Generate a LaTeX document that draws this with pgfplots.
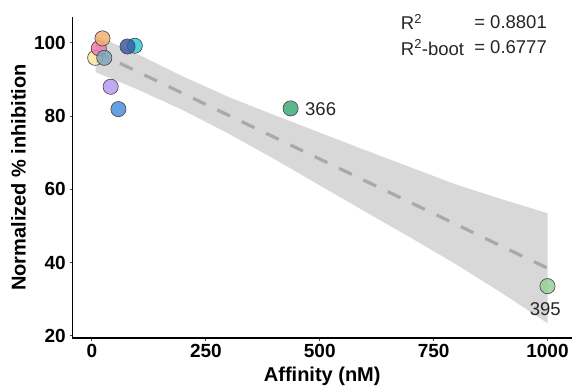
\documentclass[border=0pt]{standalone}
\usepackage{pgfplots}
\pgfplotsset{compat=1.18}
\usepackage{fontspec}
\setmainfont{Liberation Sans}
\definecolor{bandgray}{HTML}{D8D8D8}
\definecolor{linegray}{HTML}{A9A9A9}
\definecolor{cOrange}{HTML}{F0B070}
\definecolor{cPink}{HTML}{EE7AB0}
\definecolor{cYellow}{HTML}{F8E6A0}
\definecolor{cSlate}{HTML}{80A6BC}
\definecolor{cNavy}{HTML}{3B5BA0}
\definecolor{cCyan}{HTML}{30C8D8}
\definecolor{cPurple}{HTML}{B99AF2}
\definecolor{cBlue}{HTML}{4A90DB}
\definecolor{cGreen}{HTML}{40AA78}
\definecolor{cLight}{HTML}{98D098}
\pgfplotsset{pt/.style={only marks, mark=*, mark size=7.6pt,
  mark options={fill=#1, fill opacity=0.85, draw=black!75, line width=0.6pt}}}
\begin{document}
\begin{tikzpicture}
\begin{axis}[
  scale only axis, width=499.5pt, height=321pt,
  xmin=-42.8, xmax=1053.8, ymin=19.45, ymax=107.04,
  axis x line*=bottom, axis y line*=left,
  axis line style={line width=1.9pt, black, -},
  xtick={0,250,500,750,1000}, ytick={20,40,60,80,100},
  tick align=outside, major tick length=2.5pt,
  tick style={black!70, line width=1pt},
  /pgf/number format/assume math mode=true,
  /pgf/number format/1000 sep={},
  ticklabel style={font=\fontsize{19}{19}\selectfont\bfseries},
  yticklabel style={inner xsep=4pt},
  xlabel={Affinity (nM)}, ylabel={Normalized \% inhibition},
  label style={font=\fontsize{20}{20}\selectfont\bfseries},
  xlabel style={at={(axis description cs:0.5,-0.12)}, anchor=center, inner sep=0pt},
  ylabel style={at={(axis description cs:-0.1081,0.5)}, anchor=center, inner sep=0pt},
  clip=false,
]
% confidence band
\addplot[fill=bandgray, draw=none] coordinates {
 (8,102.0) (100,96.9) (200,90.8) (300,85.2) (400,80.3) (500,75.5) (600,70.7) (700,66.0) (800,61.3) (900,57.3) (1000,53.5)
 (1000,23.5) (900,31.7) (800,39.5) (700,46.8) (600,53.9) (500,61.1) (400,68.3) (300,75.2) (200,81.6) (100,87.3) (8,92.0)} -- cycle;
% regression line
\addplot[linegray, line width=3.2pt, dash pattern=on 14pt off 13pt] coordinates {(8,97.6) (1000,38.5)};
% points
\addplot[pt=cYellow] coordinates {(7,95.9)};
\addplot[pt=cPink] coordinates {(15,98.5)};
\addplot[pt=cOrange] coordinates {(23,101.2)};
\addplot[pt=cSlate] coordinates {(27,95.9)};
\addplot[pt=cCyan] coordinates {(94,99.2)};
\addplot[pt=cNavy] coordinates {(78,99.0)};
\addplot[pt=cPurple] coordinates {(41,88.0)};
\addplot[pt=cBlue] coordinates {(58,81.9)};
\addplot[pt=cGreen] coordinates {(436,82.1)};
\addplot[pt=cLight] coordinates {(1000,33.6)};
% labels
\node[anchor=west, inner sep=0pt, font=\fontsize{18.5}{18.5}\selectfont, text=black!85] at (axis cs:467.6,81.9) {366};
\node[inner sep=0pt, font=\fontsize{18.5}{18.5}\selectfont, text=black!85] at (axis cs:995,27.4) {395};
\node[anchor=west, inner sep=0pt, font=\fontsize{18.5}{18.5}\selectfont, text=black!85] at (axis cs:677.7,105.7) {R\textsuperscript{2}};
\node[anchor=west, inner sep=0pt, font=\fontsize{18.5}{18.5}\selectfont, text=black!85] at (axis cs:677.7,98.7) {R\textsuperscript{2}-boot};
\node[anchor=east, inner sep=0pt, font=\fontsize{18.5}{18.5}\selectfont, text=black!85] at (axis cs:999,105.7) {= 0.8801};
\node[anchor=east, inner sep=0pt, font=\fontsize{18.5}{18.5}\selectfont, text=black!85] at (axis cs:999,98.7) {= 0.6777};
\end{axis}
\pgfresetboundingbox
\useasboundingbox ([xshift=-72.5pt,yshift=-49pt]current axis.south west) rectangle ([xshift=2pt,yshift=17pt]current axis.north east);
\end{tikzpicture}
\end{document}
